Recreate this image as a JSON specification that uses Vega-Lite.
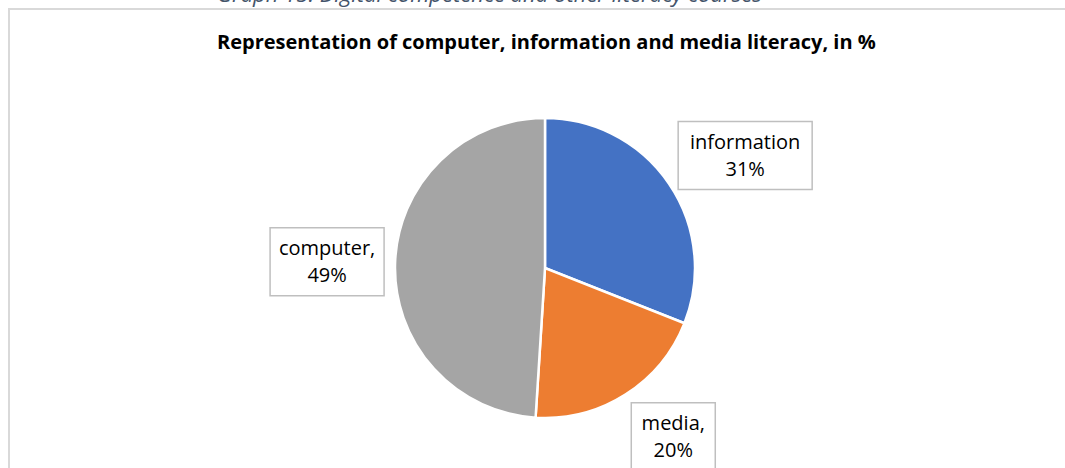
{
  "$schema": "https://vega.github.io/schema/vega-lite/v6.json",
  "width": 1072,
  "height": 518,
  "autosize": {"type": "none"},
  "padding": {"left": 9, "top": 9, "right": 0, "bottom": 0},
  "background": "white",
  "config": {"view": {"stroke": "#D9D9D9", "strokeWidth": 2}, "font": "Open Sans"},
  "title": {
    "text": "Graph 15: Digital competence and other literacy courses",
    "subtitle": "Representation of computer, information and media literacy, in %",
    "anchor": "start",
    "frame": "group",
    "dx": 208,
    "offset": -45,
    "font": "Open Sans",
    "fontSize": 22,
    "fontStyle": "italic",
    "fontWeight": "normal",
    "color": "#44546A",
    "subtitleFont": "Open Sans",
    "subtitleFontSize": 20,
    "subtitleFontWeight": "bold",
    "subtitleColor": "#000000",
    "subtitlePadding": 26
  },
  "data": {
    "values": [
      {"category": "information", "value": 31, "label": "information\n31%"},
      {"category": "media", "value": 20, "label": "media,\n20%"},
      {"category": "computer", "value": 49, "label": "computer,\n49%"}
    ]
  },
  "transform": [
    {"window": [{"op": "row_number", "as": "idx"}, {"op": "sum", "field": "value", "as": "cum"}], "frame": [null, 0]},
    {"joinaggregate": [{"op": "sum", "field": "value", "as": "total"}]},
    {"calculate": "2*PI*(datum.cum - datum.value/2)/datum.total", "as": "mid"},
    {"calculate": "(10*length(split(datum.label,'\\n')[0]) + 24)/2", "as": "hw"},
    {"calculate": "161*sin(datum.mid) + (sin(datum.mid) >= 0 ? datum.hw : -datum.hw)", "as": "lx"},
    {"calculate": "200*cos(datum.mid)", "as": "ly"},
    {"calculate": "datum.lx - datum.hw", "as": "bx1"},
    {"calculate": "datum.lx + datum.hw", "as": "bx2"},
    {"calculate": "datum.ly - 34", "as": "by1"},
    {"calculate": "datum.ly + 34", "as": "by2"}
  ],
  "layer": [
    {
      "mark": {"type": "arc", "outerRadius": 150, "stroke": "white", "strokeWidth": 2.5},
      "encoding": {
        "theta": {"field": "value", "type": "quantitative", "stack": true},
        "order": {"field": "idx", "type": "quantitative"},
        "color": {
          "field": "category",
          "type": "nominal",
          "scale": {"domain": ["information", "media", "computer"], "range": ["#4472C4", "#ED7D31", "#A5A5A5"]},
          "legend": null
        }
      }
    },
    {
      "mark": {"type": "rect", "fill": "white", "stroke": "#BFBFBF", "strokeWidth": 1.5},
      "encoding": {
        "x": {"field": "bx1", "type": "quantitative", "scale": {"domain": [-536, 536], "nice": false, "zero": false}, "axis": null},
        "x2": {"field": "bx2"},
        "y": {"field": "by1", "type": "quantitative", "scale": {"domain": [-259, 259], "nice": false, "zero": false}, "axis": null},
        "y2": {"field": "by2"}
      }
    },
    {
      "mark": {"type": "text", "lineBreak": "\n", "fontSize": 20, "lineHeight": 27, "dy": -13, "align": "center", "baseline": "middle", "color": "#000000", "font": "Open Sans"},
      "encoding": {
        "x": {"field": "lx", "type": "quantitative"},
        "y": {"field": "ly", "type": "quantitative"},
        "text": {"field": "label"}
      }
    }
  ]
}
